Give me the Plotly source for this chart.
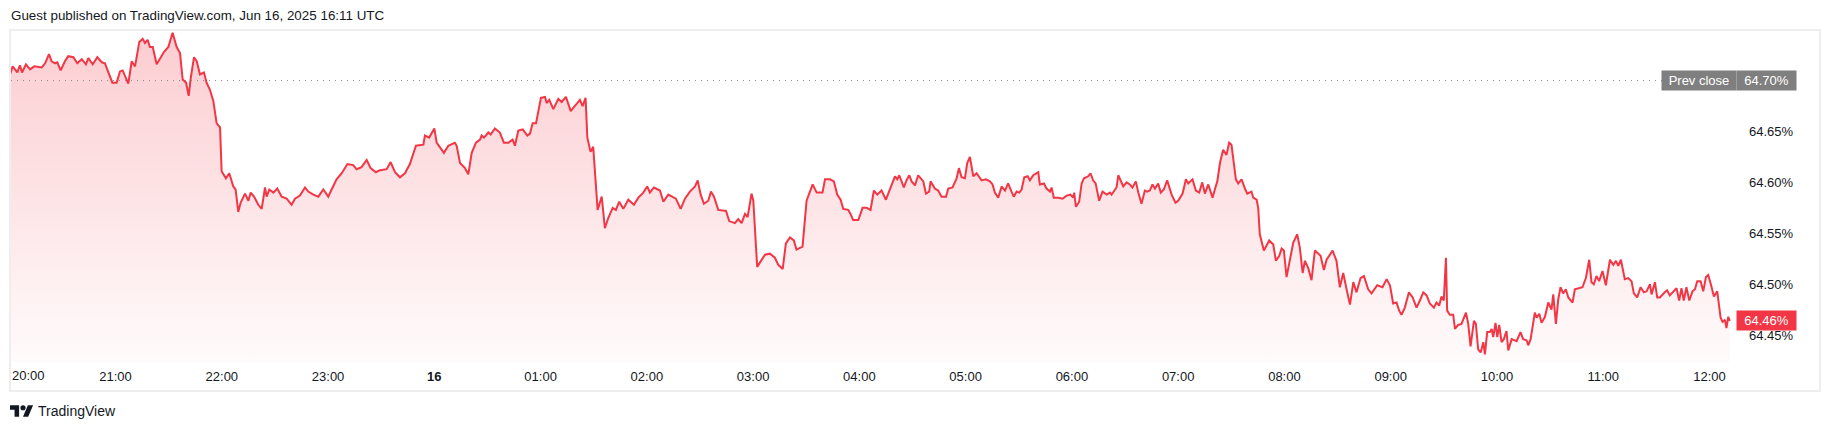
import pandas as pd
import plotly.graph_objects as go

# ---------------- data ----------------
BASE = pd.Timestamp("2025-06-15 20:00")

minutes = [
    0, 1.9, 3.2, 4.5, 6.0, 7.2, 9.4, 11.7, 14.1, 18.3, 20.2, 22.4, 23.9, 25.8, 27.1, 29.0, 31.4, 33.3,
    36.2, 38.4, 40.9, 43.3, 44.6, 47.1, 49.7, 52.2, 54.0, 55.9, 58.2, 60.6, 62.5, 64.0, 67.2, 69.1,
    71.0, 73.4, 75.3, 76.6, 78.1, 79.4, 81.0, 83.2, 85.1, 87.3, 89.8, 92.2, 94.5, 96.4, 97.9, 99.8,
    101.3, 102.4, 104.3, 105.8, 107.7, 109.9, 111.4, 113.3, 115.2, 117.1, 119.0, 119.9, 122.3, 124.2,
    126.5, 127.8, 129.3, 130.6, 133.1, 135.0, 136.3, 138.2, 140.6, 142.5, 144.4, 145.3, 146.8, 149.1,
    151.3, 153.8, 156.6, 159.4, 161.3, 164.1, 167.0, 168.8, 171.7, 174.5, 177.3, 180.1, 182.0, 184.8,
    187.7, 190.9, 194.2, 196.1, 198.9, 201.8, 204.0, 207.0, 209.3, 213.1, 215.3, 217.8, 220.6, 223.4,
    226.2, 229.6, 233.8, 234.7, 237.1, 240.0, 241.3, 243.2,
    245.4, 247.9, 251.6, 252.6, 254.5, 257.3, 259.2, 261.1, 263.5, 265.8, 266.7, 268.0, 270.5, 271.8,
    274.2, 277.0, 279.3, 281.8, 284.2, 285.5, 287.4, 289.9, 292.5, 294.0, 295.5, 297.4, 298.7, 300.2,
    302.5, 303.4, 304.9, 307.2, 310.0, 311.9, 314.3, 317.0, 318.8, 322.2, 323.7, 325.4, 326.4, 328.2,
    329.7, 332.2, 334.5, 336.3, 338.2, 340.7, 342.5, 344.4, 346.7, 349.5, 352.7, 355.2, 358.0, 360.2,
    361.7, 364.0, 367.4, 369.3, 372.1, 374.0, 376.4, 379.1, 381.5, 384.3, 387.2, 388.7, 390.4, 392.2,
    394.7, 396.2, 397.9, 400.3, 403.1, 404.7, 406.5, 409.7, 411.6, 413.5, 415.4, 416.9, 419.1, 420.1,
    422.3, 424.8, 426.7, 429.5, 432.3, 434.2, 436.7, 438.5, 440.8, 443.0, 444.5, 447.9, 450.2, 453.6,
    455.9, 459.2, 460.6, 463.4, 465.6, 467.5, 469.4, 470.9, 473.7, 475.0, 476.5, 479.4, 481.8, 484.1,
    486.3, 488.2, 490.1, 492.5, 495.0, 496.3, 500.1, 501.4, 502.5, 503.8, 505.1, 506.6, 508.2, 509.5,
    511.4, 513.2, 516.1, 517.6, 519.4, 520.2, 522.6, 524.5, 526.4, 528.9, 530.2, 532.6, 534.9, 536.2,
    537.7, 539.6, 540.9, 542.4, 544.3, 546.2, 549.0, 551.4, 553.7, 555.2, 556.5, 558.4, 560.3, 562.2,
    564.0, 565.9, 567.2, 568.8, 570.3, 571.6, 573.1, 575.0, 576.3, 578.2, 581.0, 581.9, 584.2, 585.7,
    587.6, 588.5, 589.8, 592.3, 594.7, 597.0, 599.2, 600.7, 601.3, 602.3, 604.1, 605.5, 606.8, 609.2,
    610.5, 612.0, 613.4, 615.4, 617.3, 619.6, 621.5, 622.4, 625.2, 626.2, 627.5, 629.0, 630.9, 632.7,
    634.2, 636.1, 637.5, 639.3, 641.2, 642.5, 644.0, 645.5, 646.9, 648.7, 650.2, 651.9, 653.8, 656.3,
    658.5, 660.0, 662.5, 664.4, 665.7, 668.1, 670.0, 671.9, 673.6, 675.1, 677.0, 679.4, 680.7, 682.1,
    683.6, 685.4, 687.3, 688.8, 690.1, 691.5, 692.6, 693.9, 695.8, 697.7, 699.0, 701.4, 702.4, 704.3,
    705.2, 706.1, 708.4, 711.4, 713.7, 715.2, 717.1, 718.4, 719.7, 721.2, 723.1, 725.0, 727.2, 728.7,
    730.3, 731.6, 733.4, 735.3, 737.2, 739.1, 740.4, 742.3, 743.8, 747.2, 749.4, 751.3, 753.2, 755.1,
    757.0, 758.9, 760.7, 763.0, 764.9, 767.3, 769.2, 772.4, 775.4, 777.7, 779.6, 781.4, 783.3, 784.8,
    786.1, 788.0, 790.3, 792.4, 794.6, 796.5, 798.4, 800.3, 802.1, 804.4, 805.9, 807.4, 808.7, 810.0,
    811.2, 811.9, 813.4, 815.3, 816.3, 818.1, 820.0, 822.5, 823.8, 825.1, 827.0, 828.1, 829.4, 830.8,
    832.3, 833.2, 834.5, 836.0, 837.0, 837.9, 839.2, 840.2, 841.3, 842.6, 843.9, 845.4, 846.4, 848.3,
    851.1, 853.3, 854.8, 856.7, 857.7, 859.0, 861.4, 862.4, 863.9, 865.2, 867.1, 869.0, 870.8, 871.8,
    873.3, 874.6, 875.9, 877.4, 878.9, 880.3, 882.7, 884.0, 885.9, 888.3, 890.2, 892.1, 893.4, 894.7,
    896.2, 897.7, 899.6, 901.5, 903.8, 905.7, 907.2, 908.5, 910.0, 912.2, 914.1, 916.0, 917.3, 919.2,
    921.1, 923.0, 924.5, 926.4, 927.3, 929.2, 930.5, 932.0, 934.8, 936.1, 937.6, 939.5, 941.4, 942.9,
    944.2, 945.5, 947.0, 948.6, 950.4, 951.8, 953.1, 955.0, 956.5, 958.0, 959.3, 960.8, 962.5, 964.4,
    966.3, 967.4, 968.7, 969.6, 970.6, 971.5,
]

rate = [
    64.704, 64.714, 64.711, 64.708, 64.715, 64.708, 64.716, 64.711, 64.714, 64.713, 64.717, 64.726, 64.719, 64.717, 64.718, 64.710, 64.719, 64.724,
    64.723, 64.717, 64.721, 64.716, 64.722, 64.716, 64.723, 64.718, 64.717, 64.709, 64.698, 64.698, 64.709, 64.710, 64.697, 64.719,
    64.714, 64.738, 64.741, 64.737, 64.740, 64.733, 64.733, 64.716, 64.722, 64.728, 64.733, 64.747, 64.733, 64.727, 64.701, 64.698,
    64.685, 64.702, 64.723, 64.719, 64.706, 64.708, 64.698, 64.691, 64.680, 64.658, 64.654, 64.611, 64.604, 64.609,
    64.596, 64.593, 64.571, 64.580, 64.589, 64.582, 64.590, 64.586, 64.578, 64.574, 64.595, 64.586, 64.593, 64.590,
    64.594, 64.586, 64.584, 64.578, 64.584, 64.587, 64.595, 64.591, 64.588, 64.586, 64.593, 64.586, 64.593, 64.603,
    64.609, 64.618, 64.617, 64.613, 64.615, 64.622, 64.614, 64.610, 64.612, 64.613, 64.620, 64.610, 64.605, 64.609,
    64.618, 64.636, 64.637, 64.646, 64.644, 64.653, 64.639, 64.634,
    64.629, 64.636, 64.639, 64.636, 64.619, 64.614, 64.608, 64.629, 64.639, 64.642, 64.646, 64.644, 64.649, 64.647,
    64.653, 64.649, 64.639, 64.639, 64.642, 64.636, 64.651, 64.652, 64.646, 64.648, 64.658, 64.658, 64.671, 64.683,
    64.684, 64.678, 64.681, 64.672, 64.682, 64.679, 64.684, 64.670, 64.674, 64.681, 64.675, 64.683, 64.644, 64.630,
    64.635, 64.573, 64.586, 64.555, 64.565, 64.575, 64.573, 64.581, 64.574, 64.583, 64.578, 64.585, 64.590, 64.596,
    64.590, 64.595, 64.592, 64.581, 64.588, 64.586, 64.584, 64.574, 64.584, 64.591, 64.596, 64.602, 64.588, 64.579,
    64.582, 64.591, 64.586, 64.573, 64.572, 64.572, 64.562, 64.560, 64.564, 64.560, 64.569, 64.566, 64.589, 64.582,
    64.517, 64.524, 64.529, 64.530, 64.526, 64.519, 64.515, 64.540, 64.546, 64.543, 64.534, 64.537, 64.582, 64.598,
    64.590, 64.590, 64.603, 64.603, 64.601, 64.588, 64.583, 64.574, 64.573, 64.569, 64.563, 64.563, 64.575, 64.575,
    64.573, 64.592, 64.588, 64.592, 64.583, 64.589, 64.606, 64.603, 64.607, 64.601, 64.595, 64.602, 64.607, 64.601,
    64.597, 64.607, 64.601, 64.589, 64.591, 64.601, 64.594, 64.592, 64.586, 64.586, 64.594, 64.595, 64.604, 64.614,
    64.605, 64.604, 64.619, 64.625, 64.606, 64.609, 64.602, 64.603, 64.601, 64.598, 64.590, 64.585, 64.596, 64.592,
    64.599, 64.591, 64.586, 64.591, 64.590, 64.593, 64.605, 64.606, 64.602, 64.607, 64.610, 64.598, 64.599, 64.594,
    64.591, 64.595, 64.585, 64.585, 64.584, 64.587, 64.588, 64.585, 64.590, 64.576, 64.581, 64.599, 64.604, 64.606,
    64.609, 64.602, 64.599, 64.582, 64.591, 64.588, 64.590, 64.588, 64.595, 64.607, 64.601, 64.596, 64.600, 64.598,
    64.595, 64.601, 64.590, 64.579, 64.592, 64.591, 64.592, 64.598, 64.594, 64.599, 64.590, 64.593, 64.602, 64.588,
    64.580, 64.582, 64.589, 64.603, 64.599, 64.603, 64.592, 64.590, 64.600, 64.589, 64.598, 64.585, 64.593, 64.601,
    64.619, 64.632, 64.627, 64.639, 64.637, 64.614, 64.603, 64.599, 64.603, 64.594, 64.589, 64.591, 64.585, 64.583,
    64.575, 64.549, 64.533, 64.543, 64.539, 64.523, 64.528, 64.535, 64.533, 64.507, 64.523, 64.541, 64.549, 64.536,
    64.511, 64.523, 64.516, 64.504, 64.533, 64.530, 64.528, 64.514, 64.524, 64.533, 64.523, 64.497, 64.511, 64.495,
    64.480, 64.502, 64.492, 64.506, 64.508, 64.495, 64.491, 64.499, 64.497, 64.505, 64.499, 64.481, 64.482, 64.474,
    64.470, 64.477, 64.492, 64.487, 64.477, 64.484, 64.492, 64.489, 64.481, 64.477, 64.482, 64.479, 64.488, 64.484,
    64.526, 64.474, 64.470, 64.470, 64.456, 64.460, 64.461, 64.472, 64.461, 64.439, 64.464, 64.461, 64.436, 64.433,
    64.443, 64.431, 64.453, 64.453, 64.456, 64.448, 64.462, 64.448, 64.460, 64.443, 64.446, 64.454, 64.435, 64.446,
    64.444, 64.453, 64.446, 64.445, 64.440, 64.446, 64.472, 64.467, 64.471, 64.462, 64.468, 64.482, 64.475, 64.490,
    64.461, 64.485, 64.497, 64.491, 64.495, 64.487, 64.482, 64.495, 64.496, 64.497, 64.506, 64.524, 64.502, 64.500,
    64.508, 64.503, 64.513, 64.499, 64.524, 64.519, 64.523, 64.518, 64.524, 64.505, 64.506, 64.503, 64.491, 64.487,
    64.497, 64.492, 64.493, 64.500, 64.490, 64.502, 64.487, 64.487, 64.492, 64.494, 64.489, 64.492, 64.496, 64.484,
    64.496, 64.484, 64.497, 64.484, 64.493, 64.495, 64.503, 64.503, 64.493, 64.507, 64.509, 64.500, 64.488, 64.493,
    64.467, 64.463, 64.465, 64.457, 64.468, 64.464,
]

prev_close = 64.70
price_ticks = [64.45, 64.50, 64.55, 64.60, 64.65]
hour_ticks = ["2025-06-15 21:00", "2025-06-15 22:00", "2025-06-15 23:00", "2025-06-16 00:00",
              "2025-06-16 01:00", "2025-06-16 02:00", "2025-06-16 03:00", "2025-06-16 04:00",
              "2025-06-16 05:00", "2025-06-16 06:00", "2025-06-16 07:00", "2025-06-16 08:00",
              "2025-06-16 09:00", "2025-06-16 10:00", "2025-06-16 11:00", "2025-06-16 12:00"]
hour_labels = ["21:00", "22:00", "23:00", "<b>16</b>", "01:00", "02:00", "03:00", "04:00",
               "05:00", "06:00", "07:00", "08:00", "09:00", "10:00", "11:00", "12:00"]
first_label = "20:00"
title_text = "Guest published on TradingView.com, Jun 16, 2025 16:11 UTC"

times = [BASE + pd.Timedelta(minutes=m) for m in minutes]

# ---------------- layout geometry (page pixels) ----------------
OFF = 8                                      # default page body margin
W, H = 1831 - 2 * OFF, 430 - 2 * OFF         # figure size
PL, PR, PT, PB = 11, 1734, 30, 362           # plot area, page pixels
PX_PER_HOUR = 106.26
X_20H = 9.3                                  # page pixel of 20:00
Y_PREV = 80.6                                # page pixel of prev close
PX_PER_UNIT = 1018.0

def px(x):
    return (x - PL) / (PR - PL)

def py(y):
    return (PB - y) / (PB - PT)

x_range = [BASE + pd.Timedelta(hours=(PL - X_20H) / PX_PER_HOUR),
           BASE + pd.Timedelta(hours=(PR - X_20H) / PX_PER_HOUR)]
y_range = [prev_close - (PB - Y_PREV) / PX_PER_UNIT,
           prev_close + (Y_PREV - PT) / PX_PER_UNIT]

FONT = "Liberation Sans, Arial, sans-serif"
TXT = "#131722"
RED = "#f23645"
GRAY = "#7f7f7f"

fig = go.Figure()
fig.add_trace(go.Scatter(
    x=times, y=rate, mode="lines",
    line=dict(color=RED, width=2),
    fill="tozeroy",
    fillgradient=dict(type="vertical",
                      colorscale=[[0, "rgba(242,54,69,0.02)"], [1, "rgba(242,54,69,0.25)"]],
                      start=y_range[0], stop=max(rate)),
    hoverinfo="skip", showlegend=False,
))

shapes = []
# outer frame
shapes.append(dict(type="rect", xref="paper", yref="paper",
                   x0=px(10), x1=px(1820), y0=py(391), y1=py(30),
                   line=dict(color="#eeeeee", width=2), fillcolor="rgba(0,0,0,0)", layer="below"))
# prev close dotted line
shapes.append(dict(type="line", xref="paper", yref="y", x0=0, x1=px(1662),
                   y0=prev_close, y1=prev_close,
                   line=dict(color="#8a8a8a", width=1, dash="1px,5px")))

# TradingView logo (36x28 unit icon)
S = 0.65
LX, LY = 10.0, 411.0
def lp(u, v):
    return px(LX + S * u), py(LY + S * (v - 13))
def path(pts):
    return "M " + " L ".join(f"{lp(u, v)[0]:.6f},{lp(u, v)[1]:.6f}" for u, v in pts) + " Z"
shapes.append(dict(type="path", xref="paper", yref="paper",
                   path=path([(14, 22), (7, 22), (7, 11), (0, 11), (0, 4), (14, 4)]),
                   fillcolor=TXT, line=dict(width=0)))
shapes.append(dict(type="path", xref="paper", yref="paper",
                   path=path([(28, 22), (20, 22), (27.5, 4), (35.5, 4)]),
                   fillcolor=TXT, line=dict(width=0)))
c0 = lp(16, 4); c1 = lp(24, 12)
shapes.append(dict(type="circle", xref="paper", yref="paper",
                   x0=c0[0], x1=c1[0], y0=c1[1], y1=c0[1],
                   fillcolor=TXT, line=dict(width=0)))

annotations = [
    dict(text=title_text, xref="paper", yref="paper", x=px(9), y=py(16),
         xanchor="left", yanchor="middle", showarrow=False,
         font=dict(family=FONT, size=13.4, color=TXT)),
    dict(text=first_label, xref="paper", yref="paper", x=px(9.5), y=py(375),
         xanchor="left", yanchor="middle", showarrow=False,
         font=dict(family=FONT, size=13, color=TXT)),
    dict(text="TradingView", xref="paper", yref="paper", x=px(36), y=py(411),
         xanchor="left", yanchor="middle", showarrow=False,
         font=dict(family=FONT, size=14, color=TXT)),
    dict(text="Prev close", xref="paper", yref="y", x=px(1699), y=prev_close,
         xanchor="center", yanchor="middle", showarrow=False,
         width=74, height=19, borderpad=0, bgcolor=GRAY,
         font=dict(family=FONT, size=13, color="white")),
    dict(text=f"{prev_close:.2f}%", xref="paper", yref="y", x=px(1766.5), y=prev_close,
         xanchor="center", yanchor="middle", showarrow=False,
         width=59, height=19, borderpad=0, bgcolor=GRAY,
         font=dict(family=FONT, size=13, color="white")),
    dict(text=f"{rate[-1]:.2f}%", xref="paper", yref="y", x=px(1766.5), y=rate[-1],
         xanchor="center", yanchor="middle", showarrow=False,
         width=59, height=19, borderpad=0, bgcolor=RED,
         font=dict(family=FONT, size=13, color="white")),
]

fig.update_layout(
    width=W, height=H,
    margin=dict(l=PL - OFF, r=(OFF + W) - PR, t=PT - OFF, b=(OFF + H) - PB, pad=0),
    paper_bgcolor="white", plot_bgcolor="white",
    font=dict(family=FONT, size=13, color=TXT),
    shapes=shapes, annotations=annotations,
    showlegend=False,
    xaxis=dict(type="date", range=x_range, tickvals=hour_ticks, ticktext=hour_labels,
               showgrid=False, zeroline=False, showline=False, ticks="",
               ticklabelstandoff=5, tickfont=dict(family=FONT, size=13, color=TXT),
               fixedrange=True),
    yaxis=dict(range=y_range, side="right", tickvals=price_ticks,
               ticktext=[f"{v:.2f}%" for v in price_ticks],
               showgrid=False, zeroline=False, showline=False, ticks="",
               ticklabelstandoff=14, tickfont=dict(family=FONT, size=13, color=TXT),
               fixedrange=True),
)

fig.write_html("out.html", config={"displayModeBar": False})
